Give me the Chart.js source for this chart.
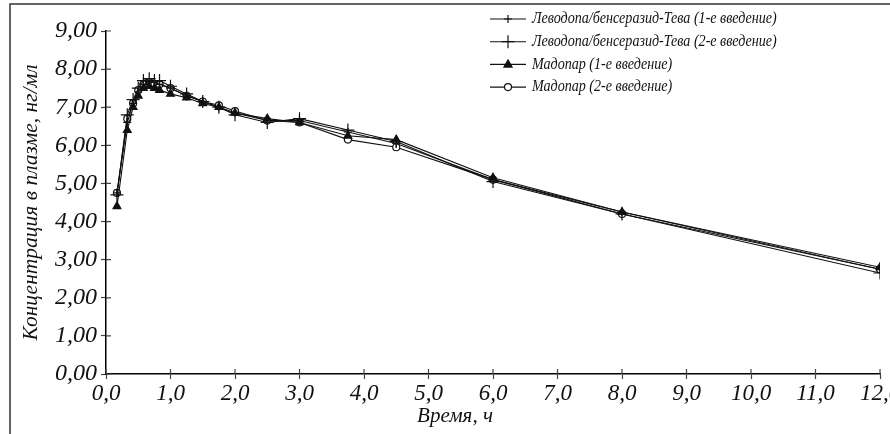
<!DOCTYPE html>
<html><head><meta charset="utf-8">
<script src="https://cdn.jsdelivr.net/npm/chart.js@4/dist/chart.umd.min.js"></script>
<style>html,body{margin:0;padding:0;background:#fff}#wrap{width:890px;height:434px}</style>
</head><body><div id="wrap"><canvas id="c" width="890" height="434"></canvas></div>
<script>
// ---- data ----
const timesH = [0.17, 0.33, 0.42, 0.5, 0.58, 0.67, 0.75, 0.83, 1.0, 1.25, 1.5, 1.75, 2.0, 2.5, 3.0, 3.75, 4.5, 6.0, 8.0, 12.0];
const seriesLabels = [
  'Леводопа/бенсеразид-Тева (1-е введение)',
  'Леводопа/бенсеразид-Тева (2-е введение)',
  'Мадопар (1-е введение)',
  'Мадопар (2-е введение)'
];
const tevaDose1    = [4.75, 6.60, 7.10, 7.40, 7.60, 7.65, 7.65, 7.60, 7.50, 7.30, 7.15, 7.00, 6.85, 6.65, 6.65, 6.35, 6.05, 5.10, 4.25, 2.75];
const tevaDose2    = [4.70, 6.80, 7.20, 7.50, 7.70, 7.75, 7.70, 7.70, 7.55, 7.35, 7.15, 7.00, 6.80, 6.60, 6.70, 6.40, 6.10, 5.05, 4.20, 2.65];
const madoparDose1 = [4.40, 6.40, 7.00, 7.30, 7.50, 7.55, 7.50, 7.45, 7.35, 7.25, 7.10, 7.00, 6.85, 6.70, 6.60, 6.25, 6.15, 5.15, 4.25, 2.80];
const madoparDose2 = [4.75, 6.70, 7.10, 7.45, 7.60, 7.60, 7.60, 7.60, 7.50, 7.30, 7.15, 7.05, 6.90, 6.65, 6.60, 6.15, 5.95, 5.10, 4.20, 2.75];
const xTickValues = [0,1,2,3,4,5,6,7,8,9,10,11,12];
const yTickValues = [0,1,2,3,4,5,6,7,8,9];
const xTitle = 'Время, ч';
const yTitle = 'Концентрация в плазме, нг/мл';

const FONT = "'Liberation Serif', 'Times New Roman', serif";
const INK = '#111';

const markerDefs = [
  {pointStyle: 'cross', radius: 4, fill: INK},
  {pointStyle: 'cross', radius: 6.5, fill: INK},
  {pointStyle: 'triangle', radius: 4.5, fill: INK},
  {pointStyle: 'circle', radius: 3.5, fill: '#fff'}
];
const seriesValues = [tevaDose1, tevaDose2, madoparDose1, madoparDose2];

const datasets = seriesValues.map((vals, i) => ({
  label: seriesLabels[i],
  data: timesH.map((t, k) => ({x: t, y: vals[k]})),
  borderColor: INK,
  backgroundColor: markerDefs[i].fill,
  borderWidth: 1.1,
  pointStyle: markerDefs[i].pointStyle,
  pointRadius: markerDefs[i].radius,
  pointBorderColor: INK,
  pointBackgroundColor: markerDefs[i].fill,
  pointBorderWidth: 1.2,
  tension: 0,
  fill: false
}));

function drawMarker(ctx, style, r, x, y, fill) {
  ctx.save();
  ctx.strokeStyle = INK; ctx.fillStyle = fill; ctx.lineWidth = 1.2;
  ctx.beginPath();
  if (style === 'cross') {
    ctx.moveTo(x - r, y); ctx.lineTo(x + r, y);
    ctx.moveTo(x, y - r); ctx.lineTo(x, y + r);
    ctx.stroke();
  } else if (style === 'triangle') {
    ctx.moveTo(x, y - r); ctx.lineTo(x + r * 0.9, y + r * 0.6); ctx.lineTo(x - r * 0.9, y + r * 0.6);
    ctx.closePath(); ctx.fill(); ctx.stroke();
  } else {
    ctx.arc(x, y, r, 0, Math.PI * 2); ctx.fill(); ctx.stroke();
  }
  ctx.restore();
}

const decor = {
  id: 'decor',
  beforeDraw(chart) {
    const ctx = chart.ctx;
    ctx.save();
    ctx.fillStyle = '#fff';
    ctx.fillRect(0, 0, chart.width, chart.height);
    ctx.strokeStyle = '#333'; ctx.lineWidth = 1.5;
    ctx.beginPath();
    ctx.moveTo(10, chart.height); ctx.lineTo(10, 4); ctx.lineTo(chart.width, 4);
    ctx.stroke();
    ctx.restore();
  },
  afterDraw(chart) {
    const ctx = chart.ctx;
    const xs = chart.scales.x, ys = chart.scales.y;
    const ca = chart.chartArea;
    ctx.save();
    ctx.strokeStyle = '#444'; ctx.lineWidth = 1.2;
    ctx.beginPath();
    xs.ticks.forEach(t => { const p = xs.getPixelForValue(t.value); ctx.moveTo(p, ca.bottom); ctx.lineTo(p, ca.bottom - 5); });
    ys.ticks.forEach(t => { const p = ys.getPixelForValue(t.value); ctx.moveTo(ca.left, p); ctx.lineTo(ca.left + 5, p); });
    ctx.stroke();
    // legend
    const lx1 = 490, lx2 = 526, tx = 532, y0 = 19, dy = 22.7, squeeze = 0.88;
    ctx.font = 'italic 16px ' + FONT;
    ctx.textBaseline = 'middle';
    seriesLabels.forEach((lab, i) => {
      const y = y0 + i * dy;
      ctx.strokeStyle = INK; ctx.lineWidth = 1.1;
      ctx.beginPath(); ctx.moveTo(lx1, y); ctx.lineTo(lx2, y); ctx.stroke();
      drawMarker(ctx, markerDefs[i].pointStyle, markerDefs[i].radius, (lx1 + lx2) / 2, y, markerDefs[i].fill);
      ctx.save();
      ctx.translate(tx, y);
      ctx.scale(squeeze, 1);
      ctx.fillStyle = INK;
      ctx.fillText(lab, 0, 0);
      ctx.restore();
    });
    ctx.restore();
  }
};

const PL = 30;
new Chart(document.getElementById('c'), {
  type: 'line',
  data: {datasets},
  plugins: [decor],
  options: {
    responsive: false,
    animation: false,
    devicePixelRatio: 1,
    layout: {padding: {left: PL, right: 10, top: 31, bottom: 0}},
    plugins: {
      legend: {display: false},
      tooltip: {enabled: false},
      title: {
        display: true, position: 'bottom', text: xTitle, color: INK,
        font: {family: FONT, size: 21, style: 'italic', weight: 'normal', lineHeight: 1.2},
        padding: {top: 0, bottom: 5}
      }
    },
    scales: {
      x: {
        type: 'linear', min: 0, max: 12,
        afterBuildTicks(s) { s.ticks = xTickValues.map(v => ({value: v})); },
        afterFit(s) { s.height = 29.8; s.paddingLeft = 0; s.paddingRight = 0; },
        ticks: {
          color: INK, padding: 1, maxRotation: 0, autoSkip: false,
          font: {family: FONT, size: 23, style: 'italic'},
          callback: v => v.toFixed(1).replace('.', ',')
        },
        grid: {drawOnChartArea: false, drawTicks: true, tickLength: 5, tickColor: '#444', tickWidth: 1.2},
        border: {display: true, color: '#000', width: 1.5}
      },
      y: {
        type: 'linear', min: 0, max: 9,
        afterBuildTicks(s) { s.ticks = yTickValues.map(v => ({value: v})); },
        afterFit(s) { s.width = 106 - PL; s.paddingTop = 0; s.paddingBottom = 0; },
        ticks: {
          color: INK, padding: 4, autoSkip: false,
          font: {family: FONT, size: 24, style: 'italic'},
          callback: v => v.toFixed(2).replace('.', ',')
        },
        title: {
          display: true, text: yTitle, color: INK,
          font: {family: FONT, size: 21.5, style: 'italic', weight: 'normal', lineHeight: 1.2},
          padding: {top: -12, bottom: 0}
        },
        grid: {drawOnChartArea: false, drawTicks: true, tickLength: 5, tickColor: '#444', tickWidth: 1.2},
        border: {display: true, color: '#000', width: 1.5}
      }
    }
  }
});
</script>
</body></html>
